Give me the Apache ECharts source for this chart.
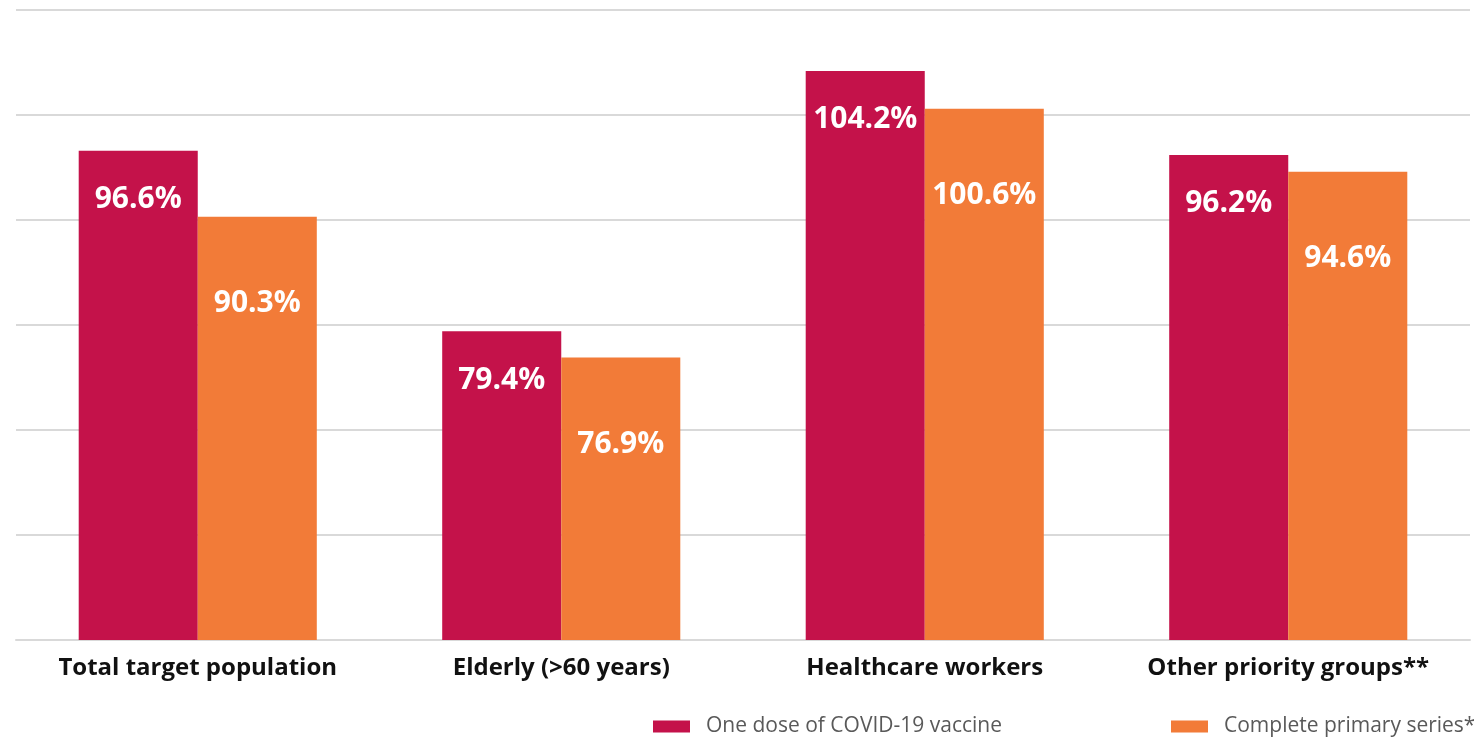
<!DOCTYPE html>
<html>
<head>
<meta charset="utf-8">
<script src="https://cdn.jsdelivr.net/npm/echarts@6/dist/echarts.min.js"></script>
<style>
  html, body { margin: 0; padding: 0; background: #fff; }
  #chart-container { width: 1474px; height: 738px; }
</style>
</head>
<body>
<div id="chart-container"></div>
<script>
// coverage by group, in percent
const categories = ["Total target population", "Elderly (>60 years)", "Healthcare workers", "Other priority groups**"];
const oneDose = [96.6, 79.4, 104.2, 96.2];
const completeSeries = [90.3, 76.9, 100.6, 94.6];
const seriesNames = ["One dose of COVID-19 vaccine", "Complete primary series*"];

var chartDom = document.getElementById("chart-container");
var myChart = echarts.init(chartDom);

const valueLabel = function (distance) {
  return {
    show: true,
    position: "insideTop",
    distance: distance,
    color: "#fff",
    fontFamily: "Open Sans",
    fontWeight: "bold",
    fontSize: 30,
    formatter: (p) => p.value.toFixed(1) + "%"
  };
};

const legendText = {
  color: "#595959",
  fontFamily: "Open Sans",
  fontSize: 21,
  padding: [0, 0, 0, 11]
};

var option = {
  animation: false,
  grid: { left: 16, right: 4, top: 10, bottom: 98 },
  legend: [
    {
      data: [{ name: seriesNames[0], icon: "rect" }],
      left: 653,
      top: 716,
      padding: 0,
      itemWidth: 37,
      itemHeight: 12,
      textStyle: legendText
    },
    {
      data: [{ name: seriesNames[1], icon: "rect" }],
      left: 1171,
      top: 716,
      padding: 0,
      itemWidth: 37,
      itemHeight: 12,
      textStyle: legendText
    }
  ],
  xAxis: {
    type: "category",
    data: categories,
    axisTick: { show: false },
    axisLine: { lineStyle: { color: "#d9d9d9", width: 2 } },
    axisLabel: {
      interval: 0,
      color: "#111",
      fontFamily: "Open Sans",
      fontWeight: "bold",
      fontSize: 24,
      margin: 16
    }
  },
  yAxis: {
    type: "value",
    min: 50,
    max: 110,
    interval: 10,
    axisLabel: { show: false },
    axisLine: { show: false },
    axisTick: { show: false },
    splitLine: { lineStyle: { color: "#d9d9d9", width: 2 } }
  },
  series: [
    {
      name: seriesNames[0],
      type: "bar",
      data: oneDose,
      barGap: 0,
      barCategoryGap: "34.5%",
      itemStyle: { color: "#c4124a" },
      label: valueLabel(34)
    },
    {
      name: seriesNames[1],
      type: "bar",
      data: completeSeries,
      itemStyle: { color: "#f27b38" },
      label: valueLabel(72)
    }
  ]
};

option && myChart.setOption(option);
</script>
</body>
</html>
